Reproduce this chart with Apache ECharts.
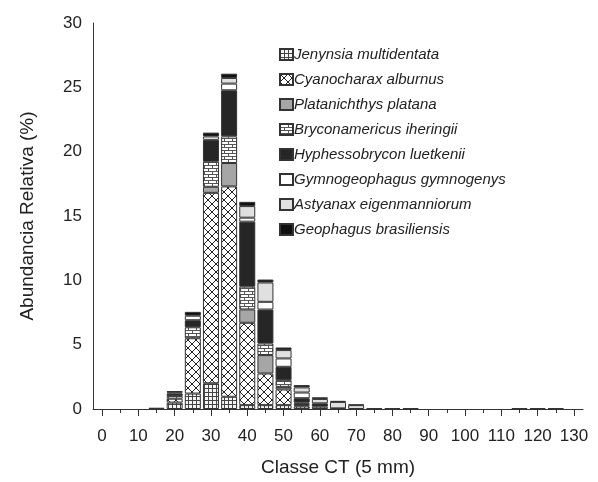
<!DOCTYPE html>
<html>
<head>
    <meta charset="utf-8">
    <title>Classe CT</title>
    <script src="https://cdn.jsdelivr.net/npm/echarts@6/dist/echarts.min.js"></script>
    <style>
        body { margin: 0; background: #fff; }
        #main { width: 598px; height: 482px; }
    </style>
</head>
<body>
<div id="main"></div>
<script>
    // classes de comprimento (5 mm)
    var classes = [];
    for (var c = 0; c <= 130; c += 5) classes.push(String(c));

    var speciesNames = ['Jenynsia multidentata', 'Cyanocharax alburnus', 'Platanichthys platana',
        'Bryconamericus iheringii', 'Hyphessobrycon luetkenii', 'Gymnogeophagus gymnogenys',
        'Astyanax eigenmanniorum', 'Geophagus brasiliensis'];

    //             0  5 10  15   20   25    30     35    40    45    50    55    60    65    70    75    80    85  90 95 100 105 110 115   120   125  130
    var jenynsia =   [0, 0, 0, 0, 0.5, 1.2, 2.0, 0.95, 0.3, 0.3, 0.3, 0.2, 0.18, 0.05, 0, 0, 0, 0, 0, 0, 0, 0, 0, 0, 0, 0, 0];
    var cyanocharax = [0, 0, 0, 0, 0.3, 4.3, 14.8, 16.35, 6.4, 2.46, 1.22, 0.1, 0, 0, 0, 0, 0, 0, 0, 0, 0, 0, 0, 0, 0, 0, 0];
    var platanichthys = [0, 0, 0, 0, 0, 0, 0.47, 1.82, 1.04, 1.43, 0.2, 0.1, 0, 0, 0, 0, 0, 0, 0, 0, 0, 0, 0, 0, 0, 0, 0];
    var bryconamericus = [0, 0, 0, 0, 0.2, 0.85, 1.95, 2.07, 1.77, 0.9, 0.52, 0.1, 0, 0, 0, 0, 0, 0, 0, 0, 0, 0, 0, 0, 0, 0, 0];
    var hyphessobrycon = [0, 0, 0, 0.1, 0.2, 0.55, 1.7, 3.58, 5.05, 2.64, 1.04, 0.34, 0.26, 0, 0, 0, 0, 0, 0, 0, 0, 0, 0, 0, 0, 0, 0];
    var gymnogeophagus = [0, 0, 0, 0, 0.1, 0.35, 0.26, 0.52, 0.31, 0.6, 0.65, 0.44, 0, 0, 0, 0, 0, 0, 0, 0, 0, 0, 0, 0, 0, 0, 0];
    var astyanax = [0, 0, 0, 0, 0, 0, 0, 0.44, 0.9, 1.5, 0.65, 0.4, 0.34, 0.5, 0.3, 0, 0, 0, 0, 0, 0, 0, 0, 0, 0, 0, 0];
    var geophagus = [0, 0, 0, 0, 0.1, 0.3, 0.3, 0.33, 0.33, 0.23, 0.2, 0.18, 0.13, 0.08, 0.05, 0.06, 0.06, 0.06, 0, 0, 0, 0, 0, 0.06, 0.06, 0.06, 0];

    var yTicks = [0, 5, 10, 15, 20, 25, 30];

    // padrões de preenchimento
    function makeTile(w, h, draw) {
        var cv = document.createElement('canvas');
        cv.width = w;
        cv.height = h;
        var ctx = cv.getContext('2d');
        draw(ctx, w, h);
        return {image: cv, repeat: 'repeat'};
    }

    var gridPattern = makeTile(4, 4, function (ctx, w, h) {
        ctx.fillStyle = '#f4f4f4';
        ctx.fillRect(0, 0, w, h);
        ctx.fillStyle = '#444';
        ctx.fillRect(0, 0, w, 1);
        ctx.fillRect(0, 0, 1, h);
    });
    var crossPattern = makeTile(8, 8, function (ctx, w, h) {
        ctx.fillStyle = '#fff';
        ctx.fillRect(0, 0, w, h);
        ctx.strokeStyle = '#222';
        ctx.lineWidth = 1;
        ctx.beginPath();
        ctx.moveTo(0, 0); ctx.lineTo(w, h);
        ctx.moveTo(w, 0); ctx.lineTo(0, h);
        ctx.stroke();
    });
    var brickPattern = makeTile(8, 6, function (ctx, w, h) {
        ctx.fillStyle = '#fff';
        ctx.fillRect(0, 0, w, h);
        ctx.fillStyle = '#555';
        ctx.fillRect(0, 0, w, 1);
        ctx.fillRect(0, 3, w, 1);
        ctx.fillRect(0, 0, 1, 3);
        ctx.fillRect(4, 3, 1, 3);
    });

    var fills = [gridPattern, crossPattern, '#a6a6a6', brickPattern, '#262626', '#ffffff', '#e0e0e0', '#111111'];
    var seriesData = [jenynsia, cyanocharax, platanichthys, bryconamericus, hyphessobrycon, gymnogeophagus, astyanax, geophagus];

    var series = [];
    for (var i = 0; i < speciesNames.length; i++) {
        series.push({
            name: speciesNames[i],
            type: 'bar',
            stack: 'total',
            barWidth: 16,
            data: seriesData[i].map(function (v) { return v === 0 ? null : v; }),
            itemStyle: {
                color: fills[i],
                borderColor: '#333',
                borderWidth: 1
            }
        });
    }

    var chart = echarts.init(document.getElementById('main'));
    var option = {
        backgroundColor: '#fff',
        animation: false,
        legend: {
            orient: 'vertical',
            left: 274,
            top: 42,
            itemWidth: 13,
            itemHeight: 11,
            itemGap: 10,
            icon: 'rect',
            data: speciesNames,
            textStyle: {
                fontFamily: 'Liberation Sans',
                fontStyle: 'italic',
                fontSize: 15,
                color: '#222',
                padding: [0, 0, 0, -4]
            }
        },
        grid: {left: 93, right: 15, top: 23, bottom: 73},
        xAxis: [{
            type: 'category',
            data: classes,
            name: 'Classe CT (5 mm)',
            nameLocation: 'middle',
            nameGap: 49,
            nameTextStyle: {fontFamily: 'Liberation Sans', fontSize: 19, color: '#222'},
            axisLine: {lineStyle: {color: '#333', width: 1}},
            axisTick: {show: true, alignWithLabel: true, interval: 0, length: 4, lineStyle: {color: '#333'}},
            axisLabel: {interval: 1, margin: 19, fontFamily: 'Liberation Sans', fontSize: 17, color: '#222'}
        }, {
            type: 'category',
            data: classes,
            position: 'bottom',
            axisLine: {show: false},
            axisTick: {show: true, alignWithLabel: true, interval: 1, length: 7, lineStyle: {color: '#333'}},
            axisLabel: {show: false}
        }],
        yAxis: {
            type: 'value',
            min: yTicks[0],
            max: yTicks[yTicks.length - 1],
            interval: 5,
            name: 'Abundancia Relativa (%)',
            nameLocation: 'middle',
            nameGap: 56,
            nameTextStyle: {fontFamily: 'Liberation Sans', fontSize: 19, color: '#222'},
            axisLine: {show: true, lineStyle: {color: '#333', width: 1}},
            axisTick: {show: false},
            splitLine: {show: false},
            axisLabel: {margin: 11, fontFamily: 'Liberation Sans', fontSize: 17, color: '#222'}
        },
        series: series
    };
    chart.setOption(option);
</script>
</body>
</html>
